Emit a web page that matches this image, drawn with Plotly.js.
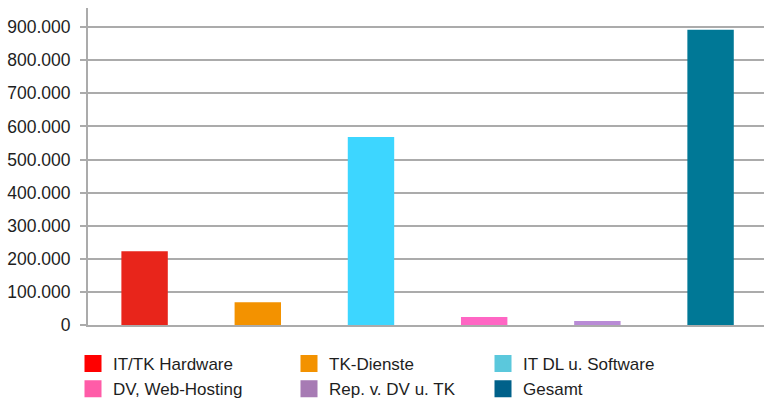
<!DOCTYPE html>
<html>
<head>
<meta charset="utf-8">
<script src="https://cdn.plot.ly/plotly-3.0.1.min.js"></script>
<style>html,body{margin:0;padding:0;background:#fff;}#chart{width:764px;height:400px;}</style>
</head>
<body>
<div id="chart"></div>
<script>
const categories = ['IT/TK Hardware', 'TK-Dienste', 'IT DL u. Software', 'DV, Web-Hosting', 'Rep. v. DV u. TK', 'Gesamt'];
const values = [223000, 69000, 568000, 24000, 12000, 892000];
const barColors = ['#e8251b', '#f39200', '#3dd6ff', '#ff66c4', '#b98bd6', '#007896'];
const legendColors = ['#ff0000', '#f39200', '#5bc8dc', '#ff5ca8', '#a77bb4', '#00618a'];
const legendSlots = ['legend', 'legend2', 'legend3', 'legend', 'legend2', 'legend3'];
const yTicks = [0, 100000, 200000, 300000, 400000, 500000, 600000, 700000, 800000, 900000];

const FONT = 'Liberation Sans, Arial, sans-serif';
const traces = [];
categories.forEach((c, i) => {
  traces.push({
    type: 'bar', x: [c], y: [values[i]], width: 0.41,
    marker: {color: barColors[i]}, showlegend: false, hoverinfo: 'x+y'
  });
});
categories.forEach((c, i) => {
  traces.push({
    type: 'bar', x: [null], y: [null], name: c,
    marker: {color: legendColors[i], line: {color: legendColors[i], width: 5}},
    showlegend: true, legend: legendSlots[i]
  });
});

const legendBase = {
  orientation: 'v', xref: 'container', yref: 'container',
  xanchor: 'left', yanchor: 'top',
  font: {family: FONT, size: 17, color: '#1e1e1e'},
  bgcolor: 'rgba(0,0,0,0)', borderwidth: 0, itemclick: false
};

const layout = {
  width: 764, height: 400,
  margin: {l: 88, r: 0, t: 8, b: 75, autoexpand: false},
  paper_bgcolor: '#fff', plot_bgcolor: '#fff',
  barmode: 'overlay',
  font: {family: FONT, size: 17, color: '#1e1e1e'},
  separators: ',.',
  xaxis: {
    type: 'category', categoryorder: 'array', categoryarray: categories,
    showticklabels: false, ticks: '', showgrid: false,
    showline: true, linecolor: '#ababab', linewidth: 2, zeroline: false,
    range: [-0.5, 5.472], automargin: false
  },
  yaxis: {
    range: [0, 958000], tickvals: yTicks, tickformat: ',d',
    showgrid: true, gridcolor: '#ababab', gridwidth: 2,
    showline: true, linecolor: '#ababab', linewidth: 2,
    ticks: 'outside', ticklen: 6, tickwidth: 2, tickcolor: '#ababab',
    ticklabelstandoff: 6, zeroline: false, automargin: false,
    tickfont: {family: FONT, size: 17.5, color: '#1e1e1e'}
  },
  legend: Object.assign({}, legendBase, {x: 73 / 764, y: 1 - 346 / 400}),
  legend2: Object.assign({}, legendBase, {x: 289 / 764, y: 1 - 346 / 400}),
  legend3: Object.assign({}, legendBase, {x: 483 / 764, y: 1 - 346 / 400})
};

Plotly.newPlot('chart', traces, layout, {displayModeBar: false, staticPlot: true});
</script>
</body>
</html>
